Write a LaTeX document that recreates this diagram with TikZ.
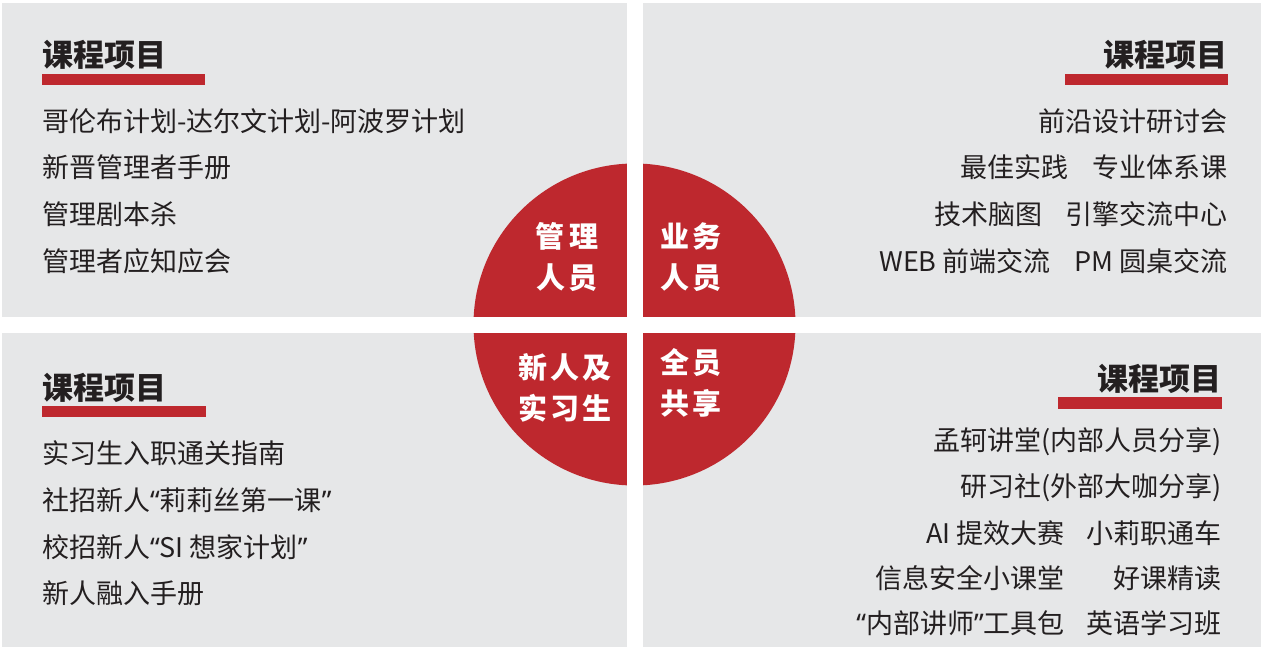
\documentclass[tikz,border=0pt]{standalone}
\usepackage{fontspec}
\setmainfont{Noto Sans CJK SC}
\newfontfamily\badgefont{Noto Sans CJK SC}[LetterSpace=12]
\newfontfamily\quotefont{Noto Sans}
\newcommand\narrowq[1]{{\quotefont #1}}

\definecolor{panelgray}{HTML}{E6E7E8}
\definecolor{markred}{HTML}{BE282E}
\definecolor{inkdark}{HTML}{231F20}

\tikzset{
  panel/.style={fill=panelgray},
  headbar/.style={fill=markred},
  heading/.style={font=\bfseries\fontsize{31}{36}\selectfont,text=inkdark,inner sep=0pt},
  item/.style={font=\fontsize{27}{32}\selectfont,text=inkdark,inner sep=0pt},
  badge/.style={font=\badgefont\bfseries\fontsize{29}{41}\selectfont,text=white,inner sep=0pt,align=center}
}

\begin{document}
\begin{tikzpicture}[x=1pt,y=-1pt]
\useasboundingbox (0,0) rectangle (1264,647);

% panels
	\fill[panel] (2,3) rectangle (626.5,316.5);
	\fill[panel] (642.5,3) rectangle (1261,316.5);
	\fill[panel] (2,332.5) rectangle (626.5,647);
	\fill[panel] (642.5,332.5) rectangle (1261,647);

% red disc, cut in four
	\fill[markred] (634.5,324.5) circle[radius=161];
	\fill[white] (626.5,150) rectangle (642.5,500);
	\fill[white] (460,316.5) rectangle (810,332.5);

	\node[badge] (mgrbadge) at (567,257.5) {管\hspace{5pt}理\\人员};
	\node[badge] (bizbadge) at (691,257.5) {业务\\人员};
	\node[badge] (newbadge) at (565,388) {新人及\\实习生};
	\node[badge] (allbadge) at (691,383) {全员\\共享};

% managers, top left
	\node[heading,anchor=west] (mgrhead) at (42,55) {课程项目};
	\fill[headbar] (42,74) rectangle (205,85);
	\node[item,anchor=west] (mgr1) at (42,121) {哥伦布计划-达尔文计划-阿波罗计划};
	\node[item,anchor=west] (mgr2) at (42,167) {新晋管理者手册};
	\node[item,anchor=west] (mgr3) at (42,214) {管理剧本杀};
	\node[item,anchor=west] (mgr4) at (42,261) {管理者应知应会};

% business staff, top right
	\node[heading,anchor=east] (bizhead) at (1228,55) {课程项目};
	\fill[headbar] (1065,74) rectangle (1228,85);
	\node[item,anchor=east] (biz1) at (1228,121) {前沿设计研讨会};
	\node[item,anchor=east] (biz2) at (1228,167) {最佳实践\hspace{24pt}专业体系课};
	\node[item,anchor=east] (biz3) at (1228,214) {技术脑图\hspace{23pt}引擎交流中心};
	\node[item,anchor=east] (biz4) at (1228,261) {WEB 前端交流\hspace{24pt}PM 圆桌交流};

% newcomers and interns, bottom left
	\node[heading,anchor=west] (newhead) at (42,388) {课程项目};
	\fill[headbar] (42,406) rectangle (206,417);
	\node[item,anchor=west] (new1) at (42,453) {实习生入职通关指南};
	\node[item,anchor=west] (new2) at (42,500) {社招新人\narrowq{“}莉莉丝第一课\narrowq{”}};
	\node[item,anchor=west] (new3) at (42,547) {校招新人\narrowq{“}SI 想家计划\narrowq{”}};
	\node[item,anchor=west] (new4) at (42,593) {新人融入手册};

% everyone, bottom right
	\node[heading,anchor=east] (allhead) at (1222,379) {课程项目};
	\fill[headbar] (1058,397) rectangle (1222,409);
	\node[item,anchor=east] (all1) at (1222,442) {孟轲讲堂(内部人员分享)};
	\node[item,anchor=east] (all2) at (1222,488) {研习社(外部大咖分享)};
	\node[item,anchor=east] (all3a) at (1065,533) {AI 提效大赛};
	\node[item,anchor=east] (all3b) at (1222,533) {小莉职通车};
	\node[item,anchor=east] (all4a) at (1065,578) {信息安全小课堂};
	\node[item,anchor=east] (all4b) at (1222,578) {好课精读};
	\node[item,anchor=east] (all5a) at (1065,623) {\narrowq{“}内部讲师\narrowq{”}工具包};
	\node[item,anchor=east] (all5b) at (1222,623) {英语学习班};
\end{tikzpicture}
\end{document}
